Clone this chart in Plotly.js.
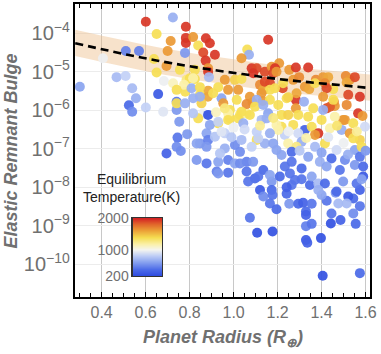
<!DOCTYPE html>
<html><head><meta charset="utf-8">
<script src="https://cdn.plot.ly/plotly-3.0.1.min.js"></script>
<style>html,body{margin:0;padding:0;background:#fff;}#chart{width:381px;height:354px;}</style>
</head><body><div id="chart"></div>
<script>
// Planet radius (Earth radii)
const radius = [
0.724,0.601,0.783,0.650,0.714,0.700,0.783,0.783,0.510,0.570,0.779,0.638,0.695,0.650,0.756,0.683,0.468,0.509,0.301,0.539,
0.556,0.524,0.539,0.601,0.657,0.680,0.725,0.741,0.741,0.753,0.745,0.789,0.741,0.760,0.695,0.780,0.786,0.406,0.816,0.874,
0.892,0.839,0.862,0.915,0.873,1.157,1.062,1.070,1.036,1.082,1.105,1.089,1.142,1.173,1.207,0.884,0.884,0.801,0.824,0.888,
0.960,1.006,1.036,0.975,0.884,0.930,1.021,1.120,1.135,1.165,0.775,0.809,0.847,0.945,0.741,0.847,0.883,1.188,1.253,1.283,
1.339,1.180,1.142,1.223,1.165,1.271,1.298,1.324,1.344,1.374,1.370,1.407,1.430,1.415,1.453,1.423,1.510,1.528,1.551,1.514,
1.574,1.521,1.456,1.283,1.283,1.423,1.460,1.514,1.566,1.586,1.498,1.324,1.132,1.074,1.127,1.241,1.320,1.362,1.286,1.165,
1.086,1.105,1.014,0.983,0.953,0.907,0.854,0.816,0.862,0.884,0.839,0.983,1.029,0.741,0.779,0.816,0.930,0.975,0.975,1.021,
1.059,1.059,1.097,1.135,1.127,1.157,1.105,0.847,0.877,0.884,0.915,0.960,0.960,1.006,1.036,1.082,1.142,0.832,0.877,0.930,
0.975,1.006,1.059,1.089,0.923,0.975,1.059,1.135,1.097,1.066,1.120,1.173,1.173,1.135,1.256,1.177,1.165,1.195,1.241,1.264,
1.253,1.074,1.107,1.177,1.294,1.316,1.355,1.329,1.329,1.329,1.355,1.329,1.335,1.397,1.405,1.574,1.445,1.442,1.486,1.555,
1.544,1.574,1.544,1.574,1.589,1.464,1.423,1.400,1.309,1.347,1.385,1.521,1.559,1.582,1.476,1.514,0.930,1.112,1.165,1.203,
1.438,1.218,1.294,1.339,1.248,1.407,1.506,1.544,1.400,1.460,1.218,1.271,1.355,1.438,1.491,1.385,1.370,1.294,1.233,1.203,
1.528,1.574,1.544,1.597,1.248,1.309,1.415,1.286,1.370,1.264,1.468,1.551,1.582,1.195,1.218,1.264,1.339,1.445,1.506,1.392,
1.574,1.551,1.233,1.309,1.423,1.483,1.589,1.210,1.279,1.355,1.415,1.498,1.241,1.385,1.468,0.892,0.930,0.945,1.044,1.150,
1.105,1.165,1.195,1.036,1.074,0.832,0.877,0.938,1.029,1.112,1.180,1.029,1.195,1.188,1.225,1.248,1.453,1.407,0.824,0.816,
0.847,1.000,1.050,0.990,1.120,1.250,1.330,1.430,1.500,1.560,1.470,1.400,1.300,1.520,1.600,1.180,0.920,0.960
];
// log10 of elastic remnant bulge
const logBulge = [
-3.59,-3.70,-3.83,-4.02,-4.20,-4.46,-4.25,-4.12,-4.46,-4.46,-4.51,-4.67,-4.85,-5.02,-4.95,-5.24,-5.14,-5.11,-5.39,-5.43,
-5.69,-5.87,-6.04,-5.93,-5.58,-6.04,-5.30,-5.78,-5.99,-6.30,-6.71,-6.62,-6.95,-7.06,-7.12,-5.52,-5.21,-4.65,-4.10,-4.13,
-4.26,-4.32,-4.50,-4.56,-4.71,-4.17,-4.42,-4.56,-4.65,-4.91,-4.91,-5.04,-5.00,-4.87,-4.78,-4.91,-5.00,-5.17,-5.19,-5.14,
-5.21,-5.21,-5.19,-5.47,-5.49,-5.40,-5.47,-5.34,-5.47,-5.30,-5.34,-5.43,-5.40,-5.69,-5.47,-5.60,-5.65,-4.91,-4.95,-4.89,
-4.89,-5.04,-5.26,-5.43,-5.47,-5.21,-5.14,-5.39,-5.45,-5.21,-5.30,-5.14,-5.14,-5.30,-5.45,-5.43,-5.11,-5.21,-5.14,-5.28,
-5.65,-5.60,-5.78,-5.73,-5.95,-5.95,-5.89,-5.86,-6.08,-6.15,-6.25,-6.51,-5.76,-5.65,-5.56,-5.69,-5.78,-5.95,-5.56,-5.73,
-5.80,-5.73,-5.73,-5.99,-5.82,-5.56,-5.82,-5.69,-6.08,-6.12,-6.21,-6.21,-6.12,-5.82,-5.82,-6.08,-6.34,-6.08,-6.25,-6.21,
-6.08,-5.84,-5.91,-5.86,-6.25,-6.08,-6.77,-6.86,-6.60,-6.77,-6.69,-6.60,-6.99,-6.90,-6.77,-6.95,-6.86,-7.29,-7.38,-7.34,
-7.29,-7.38,-7.34,-7.34,-7.59,-7.62,-7.59,-7.55,-7.77,-7.85,-8.07,-7.85,-8.07,-8.24,-7.64,-8.20,-8.42,-8.57,-8.17,-7.94,
-8.43,-8.79,-9.18,-9.15,-8.43,-8.40,-8.43,-8.63,-8.72,-9.01,-8.95,-9.37,-9.44,-9.32,-10.30,-10.23,-8.68,-8.94,-8.85,-8.95,
-8.68,-8.49,-8.29,-8.07,-7.72,-8.14,-8.35,-8.20,-7.79,-7.94,-7.90,-8.24,-7.90,-7.79,-8.42,-8.42,-7.64,-7.72,-7.68,-5.86,
-5.91,-6.12,-6.12,-6.17,-6.12,-5.99,-6.25,-6.34,-6.25,-6.17,-6.43,-6.38,-6.43,-6.47,-6.51,-6.60,-6.64,-6.60,-6.64,-6.51,
-6.60,-6.77,-6.73,-6.43,-6.86,-6.82,-6.86,-6.95,-6.95,-7.08,-7.03,-7.03,-6.95,-7.03,-7.16,-7.34,-7.21,-7.25,-7.29,-7.34,
-7.21,-7.42,-7.46,-7.51,-7.46,-7.55,-7.46,-7.72,-7.81,-7.72,-7.90,-7.85,-8.00,-8.07,-8.11,-6.38,-6.30,-6.56,-6.34,-6.21,
-6.56,-6.60,-6.38,-6.04,-6.12,-6.86,-6.95,-7.12,-7.08,-6.73,-6.86,-7.38,-5.00,-5.43,-5.30,-5.66,-5.73,-5.65,-4.95,-5.17,
-5.65,-6.45,-6.50,-6.70,-6.40,-6.55,-6.72,-6.70,-6.85,-6.55,-6.40,-7.10,-7.05,-7.15,-7.05,-6.20,-6.05,-5.95
];
// Equilibrium temperature (K)
const tempK = [
700,1950,1950,1400,1650,1650,1950,1950,500,500,600,1400,1650,1400,1400,1000,750,850,650,750,
700,400,550,850,300,950,1150,450,600,600,450,600,550,550,350,1400,1300,1000,1650,1950,
1950,1400,1900,1950,1950,1950,1400,700,1650,1950,1900,1950,1900,1650,1650,1650,1950,1400,1400,750,
1650,1450,1400,1650,1600,1400,1650,1700,1600,1900,1200,700,1400,650,1400,1400,1600,1950,1650,1950,
1950,1900,1900,1900,1400,1650,1700,1650,1600,1700,1400,1650,1600,1700,1400,1900,1700,1650,1900,1600,
1950,1900,1700,1950,1650,1900,1650,1700,1950,1650,1650,350,1650,1650,1650,1400,700,1400,1600,1400,
1650,700,1400,1400,1650,1400,1450,700,1000,250,1400,1400,1350,1400,700,800,1400,1200,1400,1400,
1250,1700,1400,700,750,650,1400,600,650,500,800,850,700,550,750,850,700,600,450,650,
500,650,500,600,500,450,450,400,400,450,300,600,400,550,450,450,450,400,400,450,
600,450,250,250,400,350,450,400,350,500,450,300,350,250,250,400,450,250,350,400,
550,450,400,350,300,600,450,650,450,400,750,300,450,650,750,750,600,450,650,1400,
1850,1400,1400,1400,1450,700,1650,1400,1400,1200,1400,1400,1400,1200,700,1950,1650,900,850,1200,
1650,1450,1400,900,1200,700,1400,1300,750,400,900,650,1400,650,650,450,650,400,550,700,
450,600,450,400,650,450,400,400,450,650,400,600,350,700,400,650,850,950,700,700,
850,700,1200,1400,1400,650,600,800,550,850,650,550,1650,1400,1400,1450,1400,1650,1400,1200,
700,1000,900,800,1250,1000,1200,950,1000,1250,1350,650,800,700,600,1300,1150,1300
];
// Fitted trend (dashed) and its uncertainty band, log10 values
const fitRadius = [0.28,0.43,0.58,0.72,0.88,1.04,1.19,1.34,1.49,1.63];
const fitLog = [-4.26,-4.45,-4.63,-4.78,-4.93,-5.06,-5.18,-5.27,-5.35,-5.43];
const bandUpperLog = [-3.91,-4.10,-4.28,-4.43,-4.58,-4.71,-4.83,-4.92,-5.00,-5.08];
const bandLowerLog = [-4.59,-4.78,-4.96,-5.11,-5.26,-5.39,-5.51,-5.60,-5.68,-5.76];
// Colour legend
const cbRange = [200, 2000];
const cbTicks = [200, 1000, 2000];

const pow10 = a => a.map(v => Math.pow(10, v));
const tempScale = [
 [0, '#2b49e0'], [0.12, '#4d6ce8'], [0.25, '#8aa4f0'], [0.37, '#c6d3f6'],
 [0.46, '#f5f5f0'], [0.56, '#fbf1a6'], [0.67, '#f6dd52'], [0.8, '#eb9c36'],
 [0.9, '#e2662c'], [1, '#d42424']
];
const grey = '#707070';
const FONT = 'Liberation Sans, Arial, sans-serif';

const traces = [
 {x: fitRadius, y: pow10(bandLowerLog), mode: 'lines', line: {width: 0, shape: 'spline'}, hoverinfo: 'skip', showlegend: false},
 {x: fitRadius, y: pow10(bandUpperLog), mode: 'lines', line: {width: 0, shape: 'spline'}, fill: 'tonexty',
  fillcolor: 'rgba(235,185,130,0.42)', hoverinfo: 'skip', showlegend: false},
 {x: radius, y: pow10(logBulge), mode: 'markers', type: 'scatter', showlegend: false,
  marker: {size: 10, color: tempK, colorscale: tempScale, cmin: cbRange[0], cmax: cbRange[1],
   opacity: 0.92, line: {width: 0}, showscale: false}},
 {x: fitRadius, y: pow10(fitLog), mode: 'lines', line: {color: '#000', width: 2.6, dash: '8px,5px', shape: 'spline'}, showlegend: false},
 {type: 'heatmap', xaxis: 'x2', yaxis: 'y2', x: [0, 1], y: cbRange,
  z: [[cbRange[0], cbRange[0]], [cbRange[1], cbRange[1]]], zmin: cbRange[0], zmax: cbRange[1],
  zsmooth: 'best', colorscale: tempScale, showscale: false, hoverinfo: 'skip'}
];

const layout = {
 width: 381, height: 354,
 margin: {l: 75, r: 11, t: 4, b: 57},
 paper_bgcolor: '#fff', plot_bgcolor: '#fff',
 font: {family: FONT, color: grey},
 xaxis: {
  range: [0.279, 1.62], tick0: 0.4, dtick: 0.2, tickformat: '.1f',
  showgrid: true, gridcolor: '#c8c8c8', gridwidth: 1.5, zeroline: false,
  showline: true, linecolor: '#000', linewidth: 2, mirror: 'allticks',
  ticks: 'inside', ticklen: 5, tickcolor: '#000', tickwidth: 1,
  minor: {dtick: 0.05, tick0: 0, ticks: 'inside', ticklen: 4, tickcolor: '#000', tickwidth: 1, showgrid: false},
  tickfont: {size: 16, color: grey, family: FONT}
 },
 yaxis: {
  type: 'log', range: [-10.85, -3.24], dtick: 1, exponentformat: 'power',
  showgrid: true, gridcolor: '#ececec', gridwidth: 1, zeroline: false,
  showline: true, linecolor: '#000', linewidth: 2, mirror: true, ticks: '',
  tickfont: {size: 16, color: grey, family: FONT}
 },
 xaxis2: {domain: [0.1966, 0.2949], anchor: 'y2', range: [0, 1], showticklabels: false, showgrid: false,
  zeroline: false, showline: true, mirror: true, linecolor: '#333', linewidth: 1.5, ticks: ''},
 yaxis2: {domain: [0.0717, 0.2696], anchor: 'x2', range: cbRange, tickvals: cbTicks, side: 'left',
  showgrid: false, zeroline: false, showline: true, mirror: true, linecolor: '#333', linewidth: 1.5, ticks: '',
  tickfont: {size: 14, color: grey, family: FONT}},
 annotations: [
  {text: '<b><i>Elastic Remnant Bulge</i></b>', xref: 'paper', yref: 'paper', x: -0.217, y: 0.5,
   textangle: -90, showarrow: false, xanchor: 'center', yanchor: 'middle', font: {size: 18, color: grey, family: FONT}},
  {text: '<b><i>Planet Radius (R<sub>⊕</sub>)</i></b>', xref: 'paper', yref: 'paper', x: 0.5, y: -0.14,
   showarrow: false, xanchor: 'center', yanchor: 'middle', font: {size: 18, color: grey, family: FONT}},
  {text: 'Equilibrium<br>Temperature(K)', xref: 'paper', yref: 'paper', x: 0.1915, y: 0.3737,
   showarrow: false, xanchor: 'center', yanchor: 'middle', font: {size: 14, color: '#222', family: FONT}}
 ]
};

Plotly.newPlot('chart', traces, layout, {staticPlot: true, displayModeBar: false});
</script>
</body></html>
